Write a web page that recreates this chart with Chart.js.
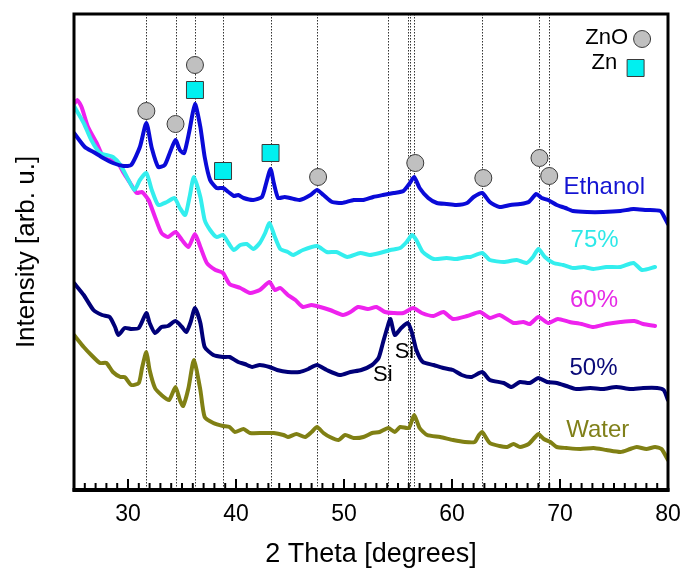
<!DOCTYPE html>
<html>
<head>
<meta charset="utf-8">
<script src="https://cdn.jsdelivr.net/npm/chart.js@4.4.1/dist/chart.umd.min.js"></script>
<style>
  html, body { margin: 0; padding: 0; background: #fff; }
  #wrap { width: 684px; height: 574px; }
</style>
</head>
<body>
<div id="wrap"><canvas id="xrd"></canvas></div>
<script>
// x: 2 Theta (degrees), y: intensity (arb. u., offset per curve)
const ethanol = [[25.0,357],[26.0,343],[26.8,338],[27.7,332],[28.6,327],[29.6,324],[30.3,325],[31.1,343],[31.7,367],[32.2,342],[32.8,323],[33.4,325],[33.9,338],[34.4,350],[34.8,340],[35.2,337],[35.7,360],[36.2,386],[36.7,363],[37.1,333],[37.6,310],[38.2,302],[38.8,302],[39.3,298],[39.8,294],[40.2,295],[40.7,292],[41.6,290],[42.4,293],[42.8,307],[43.2,321],[43.5,307],[43.9,292],[44.5,293],[45.0,292],[45.9,290],[46.9,295],[47.5,300],[48.1,295],[48.9,288],[49.8,287],[50.9,290],[51.8,290],[52.7,293],[53.6,295],[54.6,297],[55.5,299],[56.1,307],[56.5,313],[57.0,302],[57.8,292],[58.6,287],[59.5,286],[60.4,285],[61.4,287],[62.0,293],[62.8,297],[63.5,288],[64.4,283],[65.4,285],[66.3,286],[67.1,288],[67.8,296],[68.3,292],[68.9,290],[69.7,285],[70.5,282],[71.2,279],[72.5,278],[74.0,278],[75.6,279],[76.8,281],[78.0,280],[79.3,279],[79.7,272],[80.0,266]];

const pct75 = [[25.0,384],[25.9,367],[26.6,350],[27.4,337],[28.0,335],[28.6,333],[29.3,325],[29.9,313],[30.6,300],[31.1,310],[31.7,317],[32.2,300],[32.8,285],[33.6,288],[34.3,292],[34.8,282],[35.3,275],[35.7,293],[36.1,313],[36.7,293],[37.1,270],[37.6,260],[38.2,253],[38.8,255],[39.3,247],[39.8,240],[40.4,245],[41.0,246],[41.6,241],[42.2,247],[42.7,257],[43.1,267],[43.6,253],[44.1,241],[44.8,238],[45.3,235],[46.2,240],[47.5,244],[48.4,238],[49.3,238],[50.3,233],[51.5,237],[52.4,235],[53.3,237],[54.3,240],[55.2,242],[55.8,248],[56.3,255],[56.7,250],[57.3,238],[58.3,231],[59.5,232],[60.4,231],[61.4,233],[61.7,233],[62.8,237],[63.5,230],[64.8,228],[66.0,230],[66.9,227],[67.5,233],[68.0,241],[68.6,233],[69.4,227],[70.3,225],[71.2,222],[72.2,223],[73.1,221],[74.3,223],[75.6,223],[76.8,227],[77.6,220],[78.8,223]];

const pct60 = [[25.0,386],[25.3,390],[25.7,383],[26.3,363],[27.1,347],[27.7,333],[28.3,330],[29.0,328],[29.6,317],[30.2,307],[30.8,297],[31.3,298],[31.9,290],[32.5,273],[33.1,257],[33.7,253],[34.4,258],[35.0,250],[35.6,243],[36.2,256],[36.7,243],[37.3,227],[38.1,220],[38.8,217],[39.4,206],[40.4,202],[41.3,197],[42.2,200],[43.1,208],[43.6,200],[44.1,202],[44.8,195],[45.5,190],[46.2,183],[47.0,185],[47.8,183],[48.7,180],[49.9,175],[50.6,178],[51.3,183],[52.2,181],[53.0,183],[53.8,178],[54.6,177],[55.5,177],[56.4,182],[57.2,177],[58.3,174],[59.2,178],[60.1,171],[61.4,174],[62.6,178],[63.5,172],[64.4,175],[65.7,167],[66.6,168],[67.2,166],[68.0,173],[68.9,167],[69.8,171],[70.9,168],[72.0,166],[73.1,163],[74.3,166],[75.6,168],[76.9,169],[77.7,166],[78.8,164]];

const pct50 = [[25.0,207],[25.9,195],[26.8,180],[27.6,175],[28.3,173],[28.8,163],[29.1,155],[29.7,162],[30.3,161],[31.0,162],[31.7,177],[32.0,167],[32.5,157],[33.1,163],[33.7,164],[34.4,169],[35.0,163],[35.4,158],[35.8,168],[36.2,182],[36.7,167],[37.1,143],[37.9,135],[38.8,133],[39.4,133],[40.2,128],[40.8,126],[41.5,123],[42.2,125],[43.1,123],[43.8,120],[44.8,118],[45.9,118],[46.7,121],[47.5,125],[48.4,120],[49.6,115],[50.6,118],[51.6,120],[52.6,125],[53.2,132],[53.6,147],[54.0,162],[54.3,171],[54.7,155],[55.3,162],[55.9,167],[56.3,157],[56.7,140],[57.3,128],[58.3,125],[59.2,122],[60.1,120],[60.9,115],[61.8,113],[62.8,118],[63.5,110],[64.8,107],[65.5,103],[66.3,108],[67.2,107],[68.0,112],[68.8,108],[69.7,107],[70.6,104],[71.5,101],[72.8,102],[74.0,101],[75.2,103],[76.5,101],[77.7,102],[79.0,102],[79.6,100],[80.0,90]];

const water = [[25.0,155],[25.9,143],[26.6,135],[27.4,127],[28.0,127],[28.6,118],[29.3,113],[29.7,113],[30.3,105],[31.0,107],[31.3,122],[31.7,138],[32.0,120],[32.5,102],[33.1,95],[33.8,90],[34.4,103],[34.8,90],[35.1,84],[35.6,102],[36.1,130],[36.7,100],[37.1,73],[37.9,67],[38.8,64],[39.4,63],[39.9,58],[40.7,61],[41.3,57],[42.5,57],[43.5,57],[44.4,55],[44.8,53],[45.6,56],[46.4,53],[47.0,58],[47.5,63],[48.1,57],[48.7,53],[49.5,50],[50.1,55],[50.9,52],[51.8,53],[52.6,57],[53.3,58],[54.1,62],[54.7,58],[55.2,63],[56.0,62],[56.5,75],[57.0,62],[57.7,55],[58.9,53],[60.1,50],[61.2,48],[62.1,48],[62.5,55],[62.8,58],[63.5,47],[64.4,44],[65.1,43],[65.7,46],[66.3,43],[67.1,46],[67.7,53],[68.0,56],[68.5,51],[69.1,48],[69.7,43],[70.6,42],[71.9,41],[73.1,42],[74.3,40],[75.6,38],[76.5,41],[77.1,43],[78.0,41],[78.8,43],[79.4,41],[80.0,30]];

// phase markers (peak positions)
const znoMarks = [[31.7,379],[34.4,366],[36.2,425],[47.6,313],[56.6,327],[62.9,312],[68.1,332],[69.0,314],[77.6,451]];
const znMarks = [[36.2,400],[38.8,319],[43.2,337],[77.0,422]];

const refLines = [31.7, 34.4, 36.2, 38.8, 43.2, 47.5, 54.1, 55.9, 56.1, 56.5, 62.8, 68.1, 69.0];
const xTicks = [30, 40, 50, 60, 70, 80];

const curveLabels = [
  { text: "Ethanol", x: 74.1, y: 303, color: "#1414d2" },
  { text: "75%", x: 73.2, y: 250, color: "#2ee8e8" },
  { text: "60%", x: 73.15, y: 190, color: "#e62ae6" },
  { text: "50%", x: 73.1, y: 122, color: "#0a0a78" },
  { text: "Water", x: 73.5, y: 60, color: "#80801a" },
];
const siLabels = [
  { text: "Si", x: 53.6, y: 115 },
  { text: "Si", x: 55.6, y: 138 },
];

const toXY = arr => arr.map(p => ({ x: p[0], y: p[1] }));

function curve(label, arr, color) {
  return {
    label: label,
    data: toXY(arr),
    borderColor: color,
    borderWidth: 4,
    pointRadius: 0,
    tension: 0.2,
    fill: false,
    borderJoinStyle: "round",
    borderCapStyle: "round",
  };
}

const decor = {
  id: "decor",
  beforeDatasetsDraw(chart) {
    const { ctx, chartArea: a, scales: { x } } = chart;
    ctx.save();
    ctx.strokeStyle = "#333";
    ctx.lineWidth = 1;
    ctx.setLineDash([1.5, 1.5]);
    refLines.forEach(v => {
      const px = Math.round(x.getPixelForValue(v)) + 0.5;
      ctx.beginPath();
      ctx.moveTo(px, a.top);
      ctx.lineTo(px, a.bottom);
      ctx.stroke();
    });
    ctx.restore();
  },
  afterDatasetsDraw(chart) {
    const { ctx, chartArea: a, scales: { x } } = chart;
    ctx.save();
    ctx.strokeStyle = "#000";
    ctx.lineWidth = 3;
    ctx.strokeRect(a.left, a.top, a.right - a.left, a.bottom - a.top);
    ctx.lineWidth = 4;
    ctx.beginPath();
    ctx.moveTo(a.left - 1.5, a.bottom);
    ctx.lineTo(a.right + 1.5, a.bottom);
    ctx.stroke();
    // inward ticks
    ctx.lineWidth = 2;
    for (let v = 26; v < 80; v++) {
      const px = x.getPixelForValue(v);
      const len = v % 10 === 0 ? 9 : 5;
      ctx.beginPath();
      ctx.moveTo(px, a.bottom);
      ctx.lineTo(px, a.bottom - 2 - len);
      ctx.stroke();
    }
    ctx.restore();
  },
  afterDraw(chart) {
    const { ctx, scales: { x, y } } = chart;
    ctx.save();
    ctx.textBaseline = "middle";
    ctx.textAlign = "center";
    ctx.font = "24px 'Liberation Sans', Arial, sans-serif";
    curveLabels.forEach(l => {
      ctx.fillStyle = l.color;
      ctx.fillText(l.text, x.getPixelForValue(l.x), y.getPixelForValue(l.y));
    });
    ctx.fillStyle = "#000";
    ctx.font = "22px 'Liberation Sans', Arial, sans-serif";
    siLabels.forEach(l => ctx.fillText(l.text, x.getPixelForValue(l.x), y.getPixelForValue(l.y)));
    ctx.textAlign = "right";
    ctx.fillText("ZnO", x.getPixelForValue(76.3), y.getPixelForValue(452));
    ctx.fillText("Zn", x.getPixelForValue(75.3), y.getPixelForValue(427));
    ctx.restore();
  },
};

const ctx = document.getElementById("xrd").getContext("2d");
const myChart = new Chart(ctx, {
  type: "line",
  data: {
    datasets: [
      {
        label: "ZnO",
        data: toXY(znoMarks),
        showLine: false,
        pointStyle: "circle",
        pointRadius: 8.5,
        pointBackgroundColor: "#c0c0c0",
        pointBorderColor: "#3a3a3a",
        pointBorderWidth: 1,
      },
      {
        label: "Zn",
        data: toXY(znMarks),
        showLine: false,
        pointStyle: "rect",
        pointRadius: 12,
        pointBackgroundColor: "#00f0f0",
        pointBorderColor: "#3a3a3a",
        pointBorderWidth: 1,
      },
      curve("Ethanol", ethanol, "#0a0ad8"),
      curve("75%", pct75, "#33eeee"),
      curve("60%", pct60, "#ee22ee"),
      curve("50%", pct50, "#000078"),
      curve("Water", water, "#808014"),
    ],
  },
  options: {
    responsive: true,
    maintainAspectRatio: false,
    animation: false,
    layout: {
      padding: { left: 0, right: 16, top: 14, bottom: 0 },
    },
    scales: {
      x: {
        type: "linear",
        min: 25,
        max: 80,
        afterBuildTicks: scale => { scale.ticks = xTicks.map(v => ({ value: v })); },
        afterFit: scale => { scale.height = 84; },
        grid: { display: false, drawTicks: true, tickLength: 11 },
        border: { display: false },
        ticks: {
          padding: 0,
          color: "#000",
          font: { family: "'Liberation Sans', Arial, sans-serif", size: 23 },
        },
        title: {
          display: true,
          text: "2 Theta [degrees]",
          color: "#000",
          padding: { top: 0, bottom: 3 },
          font: { family: "'Liberation Sans', Arial, sans-serif", size: 27 },
        },
      },
      y: {
        min: 0,
        max: 476,
        afterFit: scale => { scale.width = 74; },
        grid: { display: false, drawTicks: false },
        border: { display: false },
        ticks: { display: false },
        title: {
          display: true,
          text: "Intensity [arb. u.]",
          color: "#000",
          padding: { top: 11, bottom: 0 },
          font: { family: "'Liberation Sans', Arial, sans-serif", size: 26 },
        },
      },
    },
    plugins: {
      legend: { display: false },
      tooltip: { enabled: false },
    },
  },
  plugins: [decor],
});
</script>
</body>
</html>
